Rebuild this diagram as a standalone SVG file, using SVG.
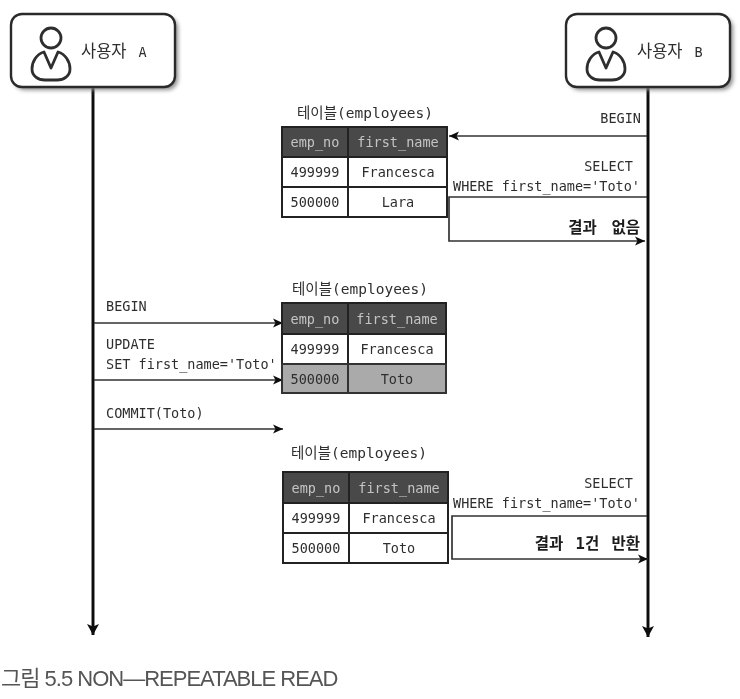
<svg xmlns="http://www.w3.org/2000/svg" width="740" height="699" viewBox="0 0 740 699">
<style>
text{font-family:"DejaVu Sans Mono","Noto Sans CJK KR",monospace;font-size:13.5px;fill:#2e2e2e}
.m{text-anchor:middle}
.e{text-anchor:end}
.h{fill:#c4c4c4}
.b{font-weight:bold;fill:#1c1c1c;font-size:15.5px}
.u{font-size:16.5px;word-spacing:2px}
.l{font-size:13.5px}
.cap{font-family:"Liberation Sans","Noto Sans CJK KR",sans-serif;font-size:22px;fill:#555;letter-spacing:-1px}
.title{font-size:14.5px}
.cell{fill:#fff;stroke:#222;stroke-width:2}
.head{fill:#4a4a4a;stroke:#222;stroke-width:2}
.grey{fill:#aaa;stroke:#333;stroke-width:2}
.box{fill:#fff;stroke:#2a2a2a;stroke-width:2.4}
.shadow{fill:#8a8a8a}
.icon{fill:none;stroke:#2d2d2d;stroke-width:2.8;stroke-linejoin:round}
.life{fill:none;stroke:#111;stroke-width:3}
.msg{fill:none;stroke:#333;stroke-width:1.7}
</style>
<defs>
<filter id="s" x="-10%" y="-10%" width="125%" height="125%"><feGaussianBlur stdDeviation="2"/></filter>
<filter id="soft" x="-2%" y="-2%" width="104%" height="104%"><feGaussianBlur stdDeviation="0.4"/></filter>
<marker id="a" markerUnits="userSpaceOnUse" markerWidth="11" markerHeight="11" refX="10" refY="5.500" orient="auto"><path d="M0 1L10 5.500L0 10L2.500 5.500Z" fill="#111"/></marker>
<marker id="l" markerUnits="userSpaceOnUse" markerWidth="14" markerHeight="14" refX="11" refY="7" orient="auto"><path d="M0 1L11 7L0 13L2.500 7Z" fill="#111"/></marker>
<g id="person"><circle cx="0" cy="-11" r="10" class="icon"/><path class="icon" d="M-7 3C-14 5-19 12-19 20C-19 27-13 31-6 31H6C13 31 19 27 19 20C19 12 14 5 7 3L0 19Z"/></g>
</defs>
<rect width="740" height="699" fill="#fff"/>
<g filter="url(#soft)">
<g id="connectors">
<path class="life" d="M93 87V635" marker-end="url(#l)"/>
<path class="life" d="M648 88V637" marker-end="url(#l)"/>
<path class="msg" d="M647 136H449" marker-end="url(#a)"/>
<path class="msg" d="M647 197H449V241H645" marker-end="url(#a)"/>
<path class="msg" d="M94 323H283" marker-end="url(#a)"/>
<path class="msg" d="M94 380H283" marker-end="url(#a)"/>
<path class="msg" d="M94 429H283" marker-end="url(#a)"/>
<path class="msg" d="M647 516H452V559H648" marker-end="url(#a)"/>
</g>
<g id="user-a">
<rect class="shadow" x="14" y="17" width="164" height="73" rx="11" filter="url(#s)"/>
<rect class="box" x="11" y="14" width="164" height="73" rx="11"/>
<use href="#person" x="51" y="49"/>
<text class="u" x="81" y="57">사용자 <tspan class="l">A</tspan></text>
</g>
<g id="user-b">
<rect class="shadow" x="569" y="17" width="164" height="73" rx="11" filter="url(#s)"/>
<rect class="box" x="566" y="14" width="164" height="73" rx="11"/>
<use href="#person" x="606" y="49"/>
<text class="u" x="637" y="57">사용자 <tspan class="l">B</tspan></text>
</g>
<g id="table-1">
<text class="title" x="297" y="118">테이블(employees)</text>
<rect class="head" x="282" y="127" width="66" height="30"/><rect class="head" x="348" y="127" width="99" height="30"/>
<rect class="cell" x="282" y="157" width="66" height="30"/><rect class="cell" x="348" y="157" width="99" height="30"/>
<rect class="cell" x="282" y="187" width="66" height="30"/><rect class="cell" x="348" y="187" width="99" height="30"/>
<text class="m h" x="315" y="147">emp_no</text><text class="m h" x="398" y="147">first_name</text>
<text class="m" x="315" y="177">499999</text><text class="m" x="398" y="177">Francesca</text>
<text class="m" x="315" y="207">500000</text><text class="m" x="398" y="207">Lara</text>
</g>
<g id="table-2">
<text class="title" x="292" y="294">테이블(employees)</text>
<rect class="head" x="282" y="303" width="66" height="31"/><rect class="head" x="348" y="303" width="98" height="31"/>
<rect class="cell" x="282" y="334" width="66" height="30"/><rect class="cell" x="348" y="334" width="98" height="30"/>
<rect class="grey" x="282" y="364" width="66" height="29"/><rect class="grey" x="348" y="364" width="98" height="29"/>
<text class="m h" x="315" y="324">emp_no</text><text class="m h" x="397" y="324">first_name</text>
<text class="m" x="315" y="354">499999</text><text class="m" x="397" y="354">Francesca</text>
<text class="m" x="315" y="384">500000</text><text class="m" x="397" y="384">Toto</text>
</g>
<g id="table-3">
<text class="title" x="291" y="458">테이블(employees)</text>
<rect class="head" x="283" y="472" width="66" height="31"/><rect class="head" x="349" y="472" width="99" height="31"/>
<rect class="cell" x="283" y="503" width="66" height="30"/><rect class="cell" x="349" y="503" width="99" height="30"/>
<rect class="cell" x="283" y="533" width="66" height="30"/><rect class="cell" x="349" y="533" width="99" height="30"/>
<text class="m h" x="316" y="493">emp_no</text><text class="m h" x="399" y="493">first_name</text>
<text class="m" x="316" y="523">499999</text><text class="m" x="399" y="523">Francesca</text>
<text class="m" x="316" y="553">500000</text><text class="m" x="399" y="553">Toto</text>
</g>
<g id="labels">
<text class="e" x="641" y="123">BEGIN</text>
<text class="e" x="633" y="171">SELECT</text>
<text class="e" x="640" y="191">WHERE first_name='Toto'</text>
<text class="e b" x="640" y="233" word-spacing="5.500">결과 없음</text>
<text x="106" y="311">BEGIN</text>
<text x="106" y="349">UPDATE</text>
<text x="106" y="369">SET first_name='Toto'</text>
<text x="106" y="418">COMMIT(Toto)</text>
<text class="e" x="633" y="488">SELECT</text>
<text class="e" x="640" y="508">WHERE first_name='Toto'</text>
<text class="e b" x="640" y="549" word-spacing="3">결과 1건 반환</text>
</g>
<text class="cap" x="1" y="686">그림 5.5 NON—REPEATABLE READ</text>
</g>
</svg>
